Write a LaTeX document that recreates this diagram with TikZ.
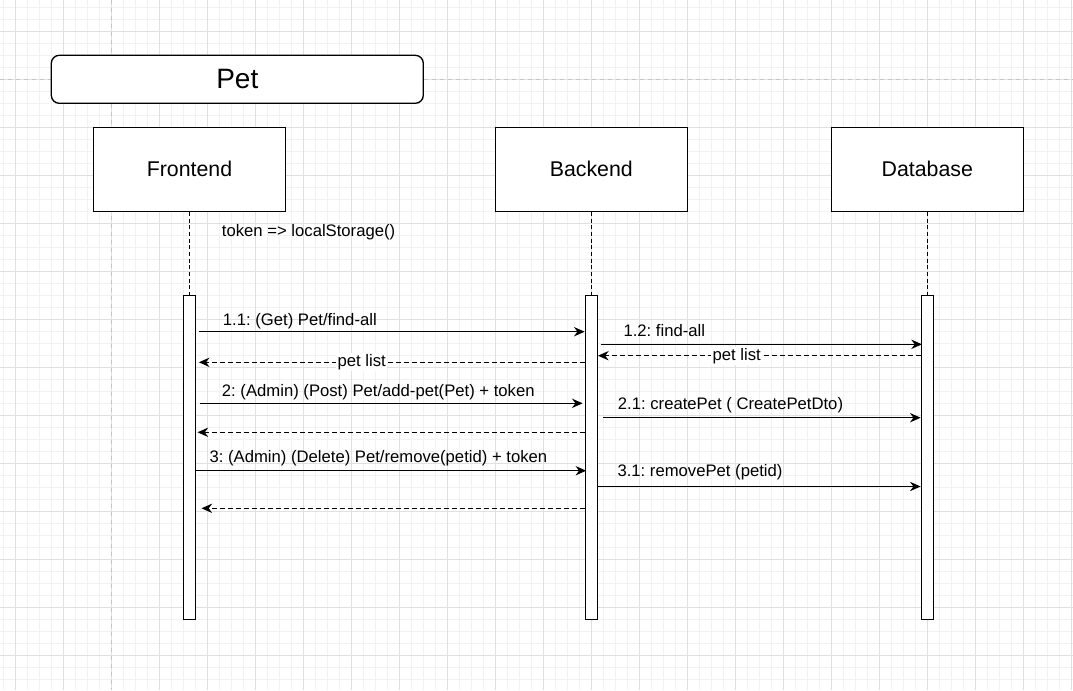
\documentclass[tikz,border=0pt]{standalone}
\usepackage{fontspec}
\setmainfont{Liberation Sans}
\usetikzlibrary{arrows.meta,positioning}
\frenchspacing

\definecolor{gridminor}{HTML}{F2F2F2}
\definecolor{gridmajor}{HTML}{E0E0E0}
\definecolor{pageline}{HTML}{C4C4C4}

\tikzset{
 minorline/.style={gridminor,line width=0.75pt},
 majorline/.style={gridmajor,line width=0.75pt},
 pagebreak/.style={pageline,line width=0.75pt,dash pattern=on 3pt off 3pt},
 actor/.style={draw,fill=white,line width=1pt,minimum width=144pt,minimum height=63pt,inner sep=0pt,font=\fontsize{16}{19}\selectfont},
 activation/.style={draw,fill=white,line width=1pt,minimum width=9pt,minimum height=243pt,inner sep=0pt},
 lifeline/.style={line width=0.75pt,dash pattern=on 3pt off 2pt},
 msg/.style={line width=0.8pt,-{Stealth[length=8pt,width=7pt]}},
 reply/.style={msg,dash pattern=on 3.5pt off 2.5pt},
 msglabel/.style={inner sep=0pt,anchor=base west,font=\fontsize{12.5}{15}\selectfont},
 onlabel/.style={fill=white,inner sep=1pt,font=\fontsize{12.5}{15}\selectfont}
}

\begin{document}
\begin{tikzpicture}[x=0.75pt,y=-0.75pt]
 \useasboundingbox (0,0) rectangle (1073,690);
 \fill[white] (0,0) rectangle (1073,690);

 % grid
 \foreach \i in {0,...,89} {
  \draw[minorline] (3.7+12*\i,0) -- ++(0,690);
 }
 \foreach \i in {0,...,57} {
  \draw[minorline] (0,7.7+12*\i) -- ++(1073,0);
 }
 \foreach \i in {0,...,22} {
  \draw[majorline] (15.7+48*\i,0) -- ++(0,690);
 }
 \foreach \i in {0,...,13} {
  \draw[majorline] (0,31.7+48*\i) -- ++(1073,0);
 }
 \draw[pagebreak] (111.7,0) -- (111.7,690);
 \draw[pagebreak] (0,79.7) -- (1073,79.7);

 % title
 \node[draw,fill=white,line width=1pt,rounded corners=6pt,minimum width=279pt,minimum height=36pt,
  font=\fontsize{21}{25}\selectfont] (title) at (237.3,79.3) {Pet};

 % actors
 \node[actor] (frontend) at (189.5,169.3) {Frontend};
 \node[actor] (backend) at (591.3,169.3) {Backend};
 \node[actor] (database) at (927.3,169.3) {Database};

 % activations
 \node[activation] (a0) at (189.5,457.3) {};
 \node[activation] (a1) at (591.3,457.3) {};
 \node[activation] (a2) at (927.3,457.3) {};

 % lifelines
 \draw[lifeline] (frontend) -- (a0);
 \draw[lifeline] (backend) -- (a1);
 \draw[lifeline] (database) -- (a2);

 \node[msglabel] (note) at (221.7,236) {token => localStorage()};

 % rows
 \coordinate (r1) at (0,331.7);
 \coordinate (r2) at (0,344.3);
 \coordinate (r3) at (0,355.7);
 \coordinate (r4) at (0,362.3);
 \coordinate (r5) at (0,403.3);
 \coordinate (r6) at (0,417.7);
 \coordinate (r7) at (0,432.3);
 \coordinate (r8) at (0,470.7);
 \coordinate (r9) at (0,486.5);
 \coordinate (r10) at (0,508.3);

 % find all
 \draw[msg,shorten <=2.4pt] (a0.east |- r1) -- (a1.west |- r1);
 \node[msglabel] (l1) at (222.7,325.5) {1.1: (Get) Pet/find-all};
 \draw[msg,shorten <=2pt,shorten >=-1pt] (a1.east |- r2) -- (a2.west |- r2);
 \node[msglabel] (l2) at (623.3,336.7) {1.2: find-all};
 \draw[reply] (a2.west |- r3) -- (a1.east |- r3);
 \node[onlabel] (l3) at (736.7,355.7) {pet list};
 \draw[reply,shorten >=2pt] (a1.west |- r4) -- (a0.east |- r4);
 \node[onlabel] (l4) at (361.7,362.3) {pet list};

 % add pet
 \draw[msg,shorten <=2.5pt,shorten >=1.5pt] (a0.east |- r5) -- (a1.west |- r5);
 \node[msglabel] (l5) at (221.7,396.7) {2: (Admin) (Post) Pet/add-pet(Pet) + token};
 \draw[msg,shorten <=4pt] (a1.east |- r6) -- (a2.west |- r6);
 \node[msglabel] (l6) at (617.7,409) {2.1: createPet ( CreatePetDto)};
 \draw[reply,shorten >=1pt] (a1.west |- r7) -- (a0.east |- r7);

 % remove pet
 \draw[msg,shorten >=-1.2pt] (a0.east |- r8) -- (a1.west |- r8);
 \node[msglabel] (l8) at (209.3,462.7) {3: (Admin) (Delete) Pet/remove(petid) + token};
 \draw[msg] (a1.east |- r9) -- (a2.west |- r9);
 \node[msglabel] (l9) at (617.3,476.7) {3.1: removePet (petid)};
 \draw[reply,shorten >=4pt] (a1.west |- r10) -- (a0.east |- r10);
\end{tikzpicture}
\end{document}
